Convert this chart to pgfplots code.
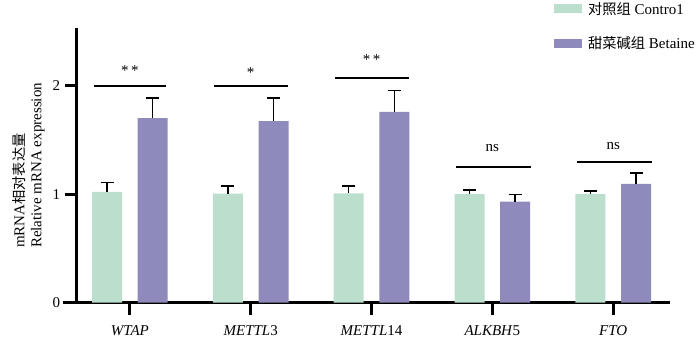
\documentclass[border=0pt]{standalone}
\usepackage{pgfplots}
\pgfplotsset{compat=1.18}
\usepackage{fontspec}
\setmainfont{Liberation Serif}
\newfontfamily\cjk{Noto Sans CJK SC}[Scale=0.95]
\definecolor{ctrl}{HTML}{BBDFCC}
\definecolor{beta}{HTML}{8E8ABB}
\begin{document}
\begin{tikzpicture}[font=\fontsize{15}{17}\selectfont]
\useasboundingbox (-76.7pt,-35.3pt) rectangle (623.3pt,302.7pt);
\begin{axis}[
  scale only axis, width=593.3pt, height=274.7pt,
  at={(0pt,0pt)}, anchor=south west,
  xmin=-0.44, xmax=4.47, ymin=0, ymax=2.53,
  axis x line*=bottom, axis y line*=left,
  axis line style={line width=3pt},
  xtick={0,1,2,3,4},
  xticklabels={\textit{WTAP},\textit{METTL}3,\textit{METTL}14,\textit{ALKBH}5,\textit{FTO}},
  ytick={0,1,2},
  tick align=outside,
  major tick length=12pt,
  tick style={line width=3pt, black},
  /pgf/number format/assume math mode=true,
  xticklabel style={yshift=-7pt},
  yticklabel style={xshift=-1pt},
  ylabel={mRNA{\cjk 相对表达量}\\Relative mRNA expression},
  ylabel style={at={(axis description cs:-0.048,0.5)}, anchor=south, align=left},
  legend style={at={(rel axis cs:0.8045,1.102)}, anchor=north west, draw=none, fill=none,
    inner sep=0pt, row sep=17pt, font=\fontsize{15}{17}\selectfont,
    nodes={inner xsep=6pt}},
  legend cell align=left,
  legend image code/.code={\fill[#1] (0pt,-4.5pt) rectangle (28pt,4.5pt);},
  clip=false,
]
\addplot[ybar, bar width=30pt, bar shift=0pt, fill=ctrl, draw=none,
  error bars/.cd, y dir=plus, y explicit,
  error bar style={line width=1.5pt, black},
  error mark options={rotate=90, mark size=6.5pt, line width=1.5pt, black}]
  coordinates {(-0.189,1.02) +- (0,0.086) (0.811,1.005) +- (0,0.07) (1.811,1.008) +- (0,0.067) (2.811,0.999) +- (0,0.037) (3.811,0.999) +- (0,0.031)};
\addlegendentry{{\cjk 对照组} Contro1}
\addplot[ybar, bar width=30pt, bar shift=0pt, fill=beta, draw=none,
  error bars/.cd, y dir=plus, y explicit,
  error bar style={line width=1.5pt, black},
  error mark options={rotate=90, mark size=6.5pt, line width=1.5pt, black}]
  coordinates {(0.189,1.70) +- (0,0.187) (1.189,1.672) +- (0,0.215) (2.189,1.758) +- (0,0.196) (3.189,0.931) +- (0,0.064) (4.189,1.094) +- (0,0.101)};
\addlegendentry{{\cjk 甜菜碱组} Betaine}
\addplot[line width=2.5pt, black, forget plot] coordinates {(-0.30,1.997) (0.30,1.997)};
\addplot[line width=2.5pt, black, forget plot] coordinates {(0.70,1.997) (1.31,1.997)};
\addplot[line width=2.5pt, black, forget plot] coordinates {(1.70,2.07) (2.31,2.07)};
\addplot[line width=2.5pt, black, forget plot] coordinates {(2.70,1.248) (3.32,1.248)};
\addplot[line width=2.5pt, black, forget plot] coordinates {(3.70,1.297) (4.32,1.297)};
\node[anchor=base] at (axis cs:0,2.09) {*\,*};
\node[anchor=base] at (axis cs:1,2.07) {*};
\node[anchor=base] at (axis cs:2,2.19) {*\,*};
\node[anchor=base] at (axis cs:3,1.39) {ns};
\node[anchor=base] at (axis cs:4,1.41) {ns};
\end{axis}
\draw[line width=3pt] (-14pt,0pt) -- (0pt,0pt);
\end{tikzpicture}
\end{document}
